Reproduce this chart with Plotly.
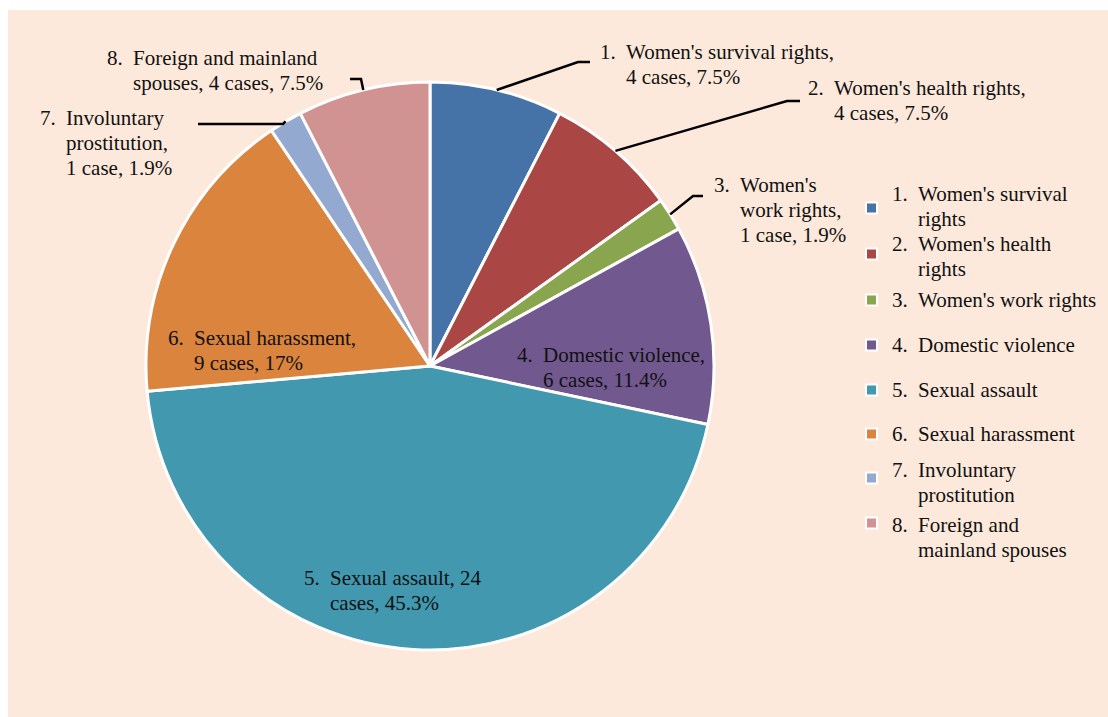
import math
import plotly.graph_objects as go

# ---- data ----
categories = ["Women's survival rights", "Women's health rights", "Women's work rights",
              "Domestic violence", "Sexual assault", "Sexual harassment",
              "Involuntary prostitution", "Foreign and mainland spouses"]
cases = [4, 4, 1, 6, 24, 9, 1, 4]
pct_labels = ["7.5%", "7.5%", "1.9%", "11.4%", "45.3%", "17%", "1.9%", "7.5%"]
colors = ["#4572A7", "#AA4643", "#89A54E", "#71588F", "#4198AF", "#DB843D", "#93A9CF", "#D19392"]

# data label text lines (first line follows the number)
label_lines = [
    ["Women's survival rights,", "4 cases, 7.5%"],
    ["Women's health rights,", "4 cases, 7.5%"],
    ["Women's", "work rights,", "1 case, 1.9%"],
    ["Domestic violence,", "6 cases, 11.4%"],
    ["Sexual assault, 24", "cases, 45.3%"],
    ["Sexual harassment,", "9 cases, 17%"],
    ["Involuntary", "prostitution,", "1 case, 1.9%"],
    ["Foreign and mainland", "spouses, 4 cases, 7.5%"],
]
legend_lines = [
    ["Women's survival", "rights"],
    ["Women's health", "rights"],
    ["Women's work rights"],
    ["Domestic violence"],
    ["Sexual assault"],
    ["Sexual harassment"],
    ["Involuntary", "prostitution"],
    ["Foreign and", "mainland spouses"],
]

# ---- layout geometry (page pixels) ----
W, H = 1108, 717
CX, CY, R = 430, 366, 284
FONT = "Liberation Serif"
FS = 21
LINE_H = 25
PEACH = "#FDE9DB"

label_pos = [(598, 52), (806, 88), (712, 185), (515, 355), (302, 578), (166, 338), (38, 118), (105, 58)]
leader_elbow = [((578, 62), (590, 62)), ((787, 101), (800, 101)), ((693, 196), (703, 196)),
                None, None, None, ((283, 124), (198, 124)), ((361, 79), (350, 79))]
legend_rows = [(194, 208), (244, 254), (300, 300), (345, 345), (390, 390), (434, 434), (470, 478), (525, 523)]


def px(x):
    return x / W


def py(y):
    return 1 - y / H


fig = go.Figure()
fig.add_trace(go.Pie(
    labels=categories, values=cases, sort=False, direction="clockwise", rotation=0,
    marker=dict(colors=colors, line=dict(color="white", width=3)),
    textinfo="none", hoverinfo="label+value+percent", showlegend=False,
    domain=dict(x=[px(CX - R), px(CX + R)], y=[py(CY + R), py(CY - R)]),
))

annotations = []
shapes = [dict(type="rect", xref="paper", yref="paper", x0=px(8), x1=1.0, y0=0, y1=py(10),
               fillcolor=PEACH, line=dict(width=0), layer="below")]


def add_text(x, y, t):
    annotations.append(dict(x=px(x), y=py(y), xref="paper", yref="paper", text=t, showarrow=False,
                            xanchor="left", yanchor="middle", font=dict(family=FONT, size=FS, color="#111")))


total = sum(cases)
cum = 0
for i, v in enumerate(cases):
    mid = (cum + v / 2) / total * 2 * math.pi
    cum += v
    nx, ny = label_pos[i]
    add_text(nx, ny, f"{i + 1}.")
    for k, line in enumerate(label_lines[i]):
        add_text(nx + 26, ny + k * LINE_H, line)
    if leader_elbow[i] is not None:
        ex = CX + R * math.sin(mid)
        ey = CY - R * math.cos(mid)
        (ax, ay), (bx, by) = leader_elbow[i]
        shapes.append(dict(type="path", xref="paper", yref="paper",
                           path=f"M {px(ex)},{py(ey)} L {px(ax)},{py(ay)} L {px(bx)},{py(by)}",
                           line=dict(color="black", width=2.5)))

# legend
for i in range(len(categories)):
    ty, my = legend_rows[i]
    shapes.append(dict(type="rect", xref="paper", yref="paper",
                       x0=px(866), x1=px(877), y0=py(my + 5.5), y1=py(my - 5.5),
                       fillcolor=colors[i], line=dict(color="white", width=2)))
    add_text(890, ty, f"{i + 1}.")
    for k, line in enumerate(legend_lines[i]):
        add_text(916, ty + k * LINE_H, line)

fig.update_layout(
    width=W, height=H, margin=dict(l=0, r=0, t=0, b=0),
    paper_bgcolor="white", plot_bgcolor="white",
    shapes=shapes, annotations=annotations, showlegend=False,
)
fig.write_html("out.html", config={"displayModeBar": False},
               post_script=("document.body.style.margin='0';document.body.style.overflow='hidden';"
                            f"document.body.style.background='{PEACH}';"))
